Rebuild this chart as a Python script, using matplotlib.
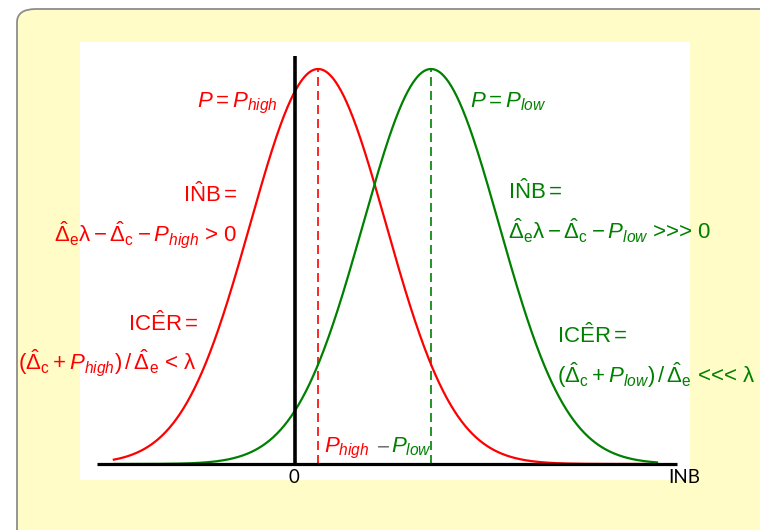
import numpy as np
import matplotlib
matplotlib.use("Agg")
import matplotlib.pyplot as plt
from matplotlib.patches import FancyBboxPatch

plt.rcParams['mathtext.fontset'] = 'custom'
plt.rcParams['mathtext.rm'] = 'Liberation Sans'
plt.rcParams['mathtext.it'] = 'Liberation Sans:italic'
plt.rcParams['mathtext.bf'] = 'Liberation Sans:bold'
plt.rcParams['font.family'] = ['Liberation Sans', 'DejaVu Sans']

# Данные: два распределения INB (центр, разброс), пик нормирован на 1
names = ["high", "low"]
means = [0.34, 2.0]
sigmas = [1.0, 1.0]
colors = ["#FF0000", "#008000"]
curve_range = [-2.68, 5.34]
axis_range = [-2.91, 5.62]

W, H = 760, 530
fig = plt.figure(figsize=(W / 100, H / 100), dpi=100)
fig.patch.set_facecolor("white")

# жёлтая рамка со скруглёнными углами
box = FancyBboxPatch((17 / W, -0.05), 1.2, 1.05 - 9 / H,
                     boxstyle="round,pad=0,rounding_size=0.025",
                     transform=fig.transFigure, facecolor="#FFFCC8",
                     edgecolor="#8C8C8C", linewidth=1.3, zorder=0)
fig.add_artist(box)


def px(x, y):
    return x / W, 1 - y / H


# белая область графика
x0, x1, y0, y1 = 80, 690, 42, 480
ax = fig.add_axes([x0 / W, 1 - y1 / H, (x1 - x0) / W, (y1 - y0) / H])
ax.set_facecolor("white")
ax.set_xlim((x0 - 295) / 68, (x1 - 295) / 68)
ax.set_ylim(-(y1 - 464) / 395, (464 - y0) / 395)
for s in ax.spines.values():
    s.set_visible(False)
ax.set_xticks([])
ax.set_yticks([])

xs = np.linspace(curve_range[0], curve_range[1], 600)
for m, sd, c in zip(means, sigmas, colors):
    ys = np.exp(-0.5 * ((xs - m) / sd) ** 2)
    ax.plot(xs, ys, color=c, lw=1.6, zorder=3, solid_capstyle="butt")
    ax.plot([m, m], [0, 1], color=c, lw=1.2, dashes=(5.4, 3), zorder=2)

ax.plot(axis_range, [0, 0], color="black", lw=2.3, zorder=4, solid_capstyle="butt")
ax.plot([0, 0], [0, 1.033], color="black", lw=2.6, zorder=4, solid_capstyle="butt")

red, green = colors


def put(x, y, s, color, ha, size=16, **kw):
    fig.text(*px(x, y), s, color=color, ha=ha, va="baseline", fontsize=size, **kw)


D = r"\hat{\Delta}"
put(278, 107, r"$P = P_{high}$", red, "right")
put(470, 107, r"$P = P_{low}$", green, "left")

put(238, 202, r"$\mathrm{I\hat{N}B} =$", red, "right")
put(238, 241, r"$" + D + r"_\mathrm{e}\mathrm{\lambda} - " + D + r"_\mathrm{c} - P_{high}$ > 0",
    red, "right")
put(199, 331, r"$\mathrm{IC\hat{E}R} =$", red, "right")
put(197, 369, r"$(" + D + r"_\mathrm{c} + P_{high})\,/\," + D + r"_\mathrm{e}$ < λ",
    red, "right")

put(508, 199, r"$\mathrm{I\hat{N}B} =$", green, "left")
put(508, 239, r"$" + D + r"_\mathrm{e}\mathrm{\lambda} - " + D + r"_\mathrm{c} - P_{low}$ >>> 0",
    green, "left")
put(557, 343, r"$\mathrm{IC\hat{E}R} =$", green, "left")
put(557, 383, r"$(" + D + r"_\mathrm{c} + P_{low})\,/\," + D + r"_\mathrm{e}$ <<< λ",
    green, "left")

put(324, 452, r"$P_{high}$", red, "left")
put(376, 452, r"$-$", "#707070", "left")
put(391, 452, r"$P_{low}$", green, "left")

fig.text(*px(294, 483), "0", color="black", ha="center", va="baseline",
         fontsize=13.5, family=["Lato", "DejaVu Sans"])
fig.text(*px(668, 483), "INB", color="black", ha="left", va="baseline",
         fontsize=13.5, family=["Lato", "DejaVu Sans"])

fig.savefig("out.png", dpi=100)
